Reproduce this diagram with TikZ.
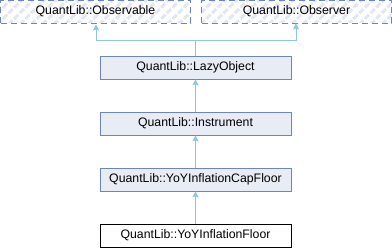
\documentclass[tikz,border=0pt]{standalone}
\usepackage{fontspec}
\setmainfont{Liberation Sans}
\usetikzlibrary{arrows.meta,patterns.meta}
\definecolor{boxfill}{HTML}{E8ECF5}
\definecolor{boxline}{HTML}{6E84C0}
\definecolor{edgeblue}{HTML}{8FC6E8}
\definecolor{hatch}{HTML}{E2E7F1}
\tikzset{
  cls/.style={draw=boxline, fill=boxfill, line width=0.9pt, minimum width=191pt,
    minimum height=23pt, inner sep=0pt, font=\fontsize{12.3}{14}\selectfont},
  extcls/.style={draw=boxline, line width=0.9pt, dash pattern=on 6pt off 4pt,
    pattern={Lines[angle=45,distance=8pt,line width=3pt]}, pattern color=hatch,
    minimum width=190pt, minimum height=23pt, inner sep=0pt,
    font=\fontsize{12.3}{14}\selectfont},
  leaf/.style={draw=black, fill=white, line width=0.9pt, minimum width=191pt,
    minimum height=23pt, inner sep=0pt, font=\fontsize{12.3}{14}\selectfont},
  inherit/.style={draw=edgeblue, line width=0.9pt,
    -{Stealth[length=6pt,width=6pt,inset=1pt,fill=edgeblue]}}
}
\begin{document}
\begin{tikzpicture}[x=1pt,y=-1pt]
  \useasboundingbox[fill=white] (0,0) rectangle (392,248);
  \node[extcls] (observable) at (95.5,11.5) {QuantLib::Observable};
  \node[extcls] (observer) at (296.5,11.5) {QuantLib::Observer};
  \node[cls] (lazy) at (195.5,67.5) {QuantLib::LazyObject};
  \node[cls] (instrument) at (195.5,123.5) {QuantLib::Instrument};
  \node[cls] (capfloor) at (195.5,179.5) {QuantLib::YoYInflationCapFloor};
  \node[leaf] (floor) at (195.5,235.5) {QuantLib::YoYInflationFloor};
  \coordinate (split) at (195.5,40.5);
  \draw[inherit] (lazy.north) -- (split) -| (observable.south -| 96,0);
  \draw[inherit] (split) -| (observer.south -| 296,0);
  \draw[inherit] (instrument) -- (lazy);
  \draw[inherit] (capfloor) -- (instrument);
  \draw[inherit] (floor) -- (capfloor);
\end{tikzpicture}
\end{document}
